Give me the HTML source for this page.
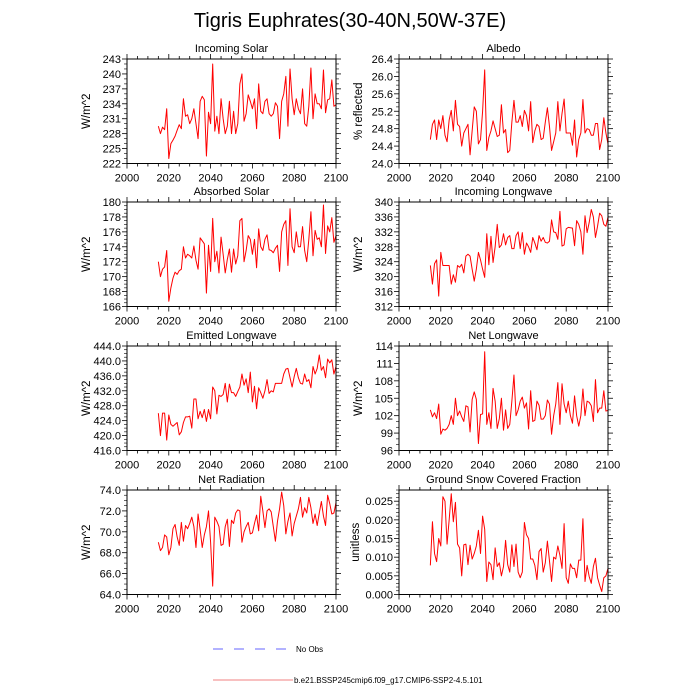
<!DOCTYPE html>
<html><head><meta charset="utf-8"><style>
html,body{margin:0;padding:0;background:#fff;}
svg{display:block;font-family:"Liberation Sans",sans-serif;}
</style></head><body>
<svg id="chart" width="700" height="700" viewBox="0 0 700 700" xmlns="http://www.w3.org/2000/svg">
<rect width="700" height="700" fill="#fff"/>
<text x="350" y="27" font-size="20" text-anchor="middle">Tigris Euphrates(30-40N,50W-37E)</text>
<g>
<line x1="213" y1="649" x2="286" y2="649" stroke="#6666ff" stroke-width="1" stroke-dasharray="10,11"/>
<text x="296" y="652" font-size="8">No Obs</text>
<line x1="213" y1="680" x2="293" y2="680" stroke="#f08080" stroke-width="1"/>
<text x="294" y="683" font-size="8">b.e21.BSSP245cmip6.f09_g17.CMIP6-SSP2-4.5.101</text>
</g>
</svg>
<script>
const years = []; for (let y = 2015; y <= 2100; y++) years.push(y);
const xTicks = [2000, 2020, 2040, 2060, 2080, 2100];
const incomingSolar = [229.5,228,229.3,228.8,233,223,226,226.7,227.5,228.7,229.8,229,235,231.5,231.8,230,231,233,230,227,234.5,235.5,234.8,223.5,232.3,230,242,228.5,231.5,228,235,231,228,229.5,234.5,228,232.5,228,230,238,240,230.5,232,235.8,234.5,233,235,229,238,232.5,232,234.5,235,232,231.5,232,234.2,233.5,227,234.5,236,239.5,229.5,241,235,231.8,235,233,232,237,230,229.5,233.5,241.2,231,236,234,234,233,240.8,232.2,234.8,235,238.8,233.5,233.8];
const albedo = [24.55,24.9,25.0,24.55,25.0,24.8,25.1,24.65,24.5,25.0,25.22,24.75,25.45,24.9,24.85,24.4,24.7,24.8,24.9,24.2,24.75,25.3,25.2,24.45,24.55,25.2,26.15,24.3,24.6,24.75,24.98,24.8,24.62,24.65,25.35,24.7,24.78,24.25,24.3,24.95,25.45,24.95,24.95,25.1,24.85,25.22,25.1,24.75,25.42,24.48,24.75,24.9,24.85,24.55,24.58,24.95,25.28,24.85,24.3,24.5,24.7,25.42,24.75,25.15,25.48,24.7,24.7,24.7,24.42,25.0,24.15,24.55,24.7,25.47,24.7,24.8,24.78,24.65,24.65,24.92,24.92,24.32,24.55,25.05,24.7,24.45];
const absorbedSolar = [172,170,171,171.3,173.5,166.7,168.5,169.8,170.6,170.3,170.8,171,174,172.5,173,172.8,172.5,174.1,172.2,171,175.2,174.8,174.4,167.8,174.2,170.7,177.8,172,173.4,170.5,175.3,173,170.5,172.3,173.7,170.6,173.7,171.7,172.8,177.5,177.8,172,173.5,175.5,175,173,175,171.2,176.4,174,173.5,175,175.6,173.6,173.5,173.2,173.8,174.2,170.7,176,177,177.5,171.5,179.1,174,173.2,176,174,174,176.7,173.5,172,175,178.7,172.8,176.2,175,175.2,174,179.6,173.1,176.8,176,177.9,174.6,175.5];
const incomingLongwave = [323,318,323.5,324.5,314.8,326.5,323,323,323,323,318,320.5,318.5,323,322.5,323.3,321,325.5,326,325.5,322,318.8,322,326.5,324.5,322,319.8,331.5,323.2,330.8,323.8,328,334,327.8,328.5,331.5,328.5,330.5,331,327.5,327.5,331,332,327.5,331.8,326,329,328,326.5,330.5,329,327.2,331,329.5,330.5,329.2,329,329.5,335.2,332,331.8,330,337.5,328.2,328.5,332.8,333.2,333.1,333,328.3,335,334,332,326,336.3,331.8,334.5,338,336,330.5,333.5,337,336.3,334,333.5,336];
const emittedLongwave = [426,420,426,426,418.8,425.5,423,422.5,423,423.5,420.2,421,423.5,425,425,425.2,422,429.8,429.8,424.5,426.5,424.8,427,423.8,427,424.5,433,432,425.8,430.8,430.5,431,434,429,433.8,431.5,431.5,430.5,431.8,433,436.5,433.5,435.2,431.5,437,429,433.2,427.2,432.8,431.5,430,432,435,431.3,432,431.7,434,434,434,434,436.5,437.8,438,435.5,433,435.8,438,435.5,434,433.8,436.5,434.5,435,432.8,438.5,436.5,438,441.6,437.5,438.5,435.5,440.5,439.5,440.3,436.5,438.5];
const netLongwave = [103,101.8,102.5,101.5,104,98.8,99.7,99.5,99.8,100.5,102,100.5,105,102,102.8,101.8,101,103.7,103.5,99.2,104.8,106.1,104.8,97.2,102.2,102.3,113,100.5,102.5,99.8,106.7,104.5,99.8,101.5,105,99.5,103,99.8,100.5,104.5,109,102,103,104.5,105.2,103.3,104.2,99.7,106.3,101,101.2,104.5,103.8,101.4,101.4,102,104.7,104,98.8,102,104,107.7,100.5,107.5,104,102.5,104.5,102,100.7,105.4,102,100.2,102,106.6,102,104.5,104.3,103.7,101,108.2,102.5,103.3,103.3,106.3,102.8,102.9];
const netRadiation = [69,68.2,68.5,69.7,69.5,67.8,68.5,70.3,70.7,69.5,68.7,70.9,69.1,70.6,70.3,70.8,71.4,70.5,68.5,71.7,70.2,68.5,69.7,70.5,72,69,64.8,71.4,71,70.5,68.7,68.8,70.5,71.2,68.6,71.1,70.8,71.8,72.1,72,69,70,70.5,70.9,69.8,69.9,70.8,71.6,70.1,73.4,72,70.4,72,72.2,71.9,70.5,69.1,71,72.2,73.8,72.5,69.8,71,71.8,69.6,70.8,71.5,72.2,73.3,71.4,72.3,71.8,73.3,72.3,70.8,71.7,70.6,71.8,72.9,71.5,70.6,73.5,72.7,71.7,71.8,72.8];
const snowFraction = [0.0078,0.0195,0.011,0.0088,0.015,0.013,0.0262,0.025,0.0135,0.02,0.027,0.0195,0.0247,0.0135,0.0125,0.005,0.0133,0.0135,0.008,0.0132,0.0095,0.011,0.013,0.0172,0.011,0.021,0.0175,0.0035,0.0087,0.008,0.004,0.0125,0.0075,0.0085,0.005,0.0075,0.0145,0.008,0.006,0.0133,0.0075,0.0135,0.006,0.0045,0.006,0.0193,0.016,0.015,0.0095,0.0095,0.0078,0.004,0.0115,0.0123,0.006,0.0085,0.0143,0.009,0.0035,0.01,0.0095,0.013,0.0105,0.007,0.019,0.0045,0.003,0.0082,0.007,0.007,0.0045,0.0092,0.0092,0.0203,0.0035,0.0078,0.0048,0.003,0.0075,0.0097,0.0045,0.0025,0.0008,0.0045,0.005,0.007];
const ticksIS = [222,225,228,231,234,237,240,243];
const ticksAlb = [24.0,24.4,24.8,25.2,25.6,26.0,26.4];
const ticksAS = [166,168,170,172,174,176,178,180];
const ticksIL = [312,316,320,324,328,332,336,340];
const ticksEL = [416,420,424,428,432,436,440,444];
const ticksNL = [96,99,102,105,108,111,114];
const ticksNR = [64,66,68,70,72,74];
const ticksSnow = [0,0.005,0.010,0.015,0.020,0.025];

const panels = [
 {name:'incoming-solar', title:'Incoming Solar', ylab:'W/m^2', data:incomingSolar, ticks:ticksIS, ymin:222, ymax:243, dec:0, L:127, T:59, minor:3},
 {name:'albedo', title:'Albedo', ylab:'% reflected', data:albedo, ticks:ticksAlb, ymin:24.0, ymax:26.4, dec:1, L:399, T:59, minor:4},
 {name:'absorbed-solar', title:'Absorbed Solar', ylab:'W/m^2', data:absorbedSolar, ticks:ticksAS, ymin:166, ymax:180, dec:0, L:127, T:202, minor:4},
 {name:'incoming-longwave', title:'Incoming Longwave', ylab:'W/m^2', data:incomingLongwave, ticks:ticksIL, ymin:312, ymax:340, dec:0, L:399, T:202, minor:4},
 {name:'emitted-longwave', title:'Emitted Longwave', ylab:'W/m^2', data:emittedLongwave, ticks:ticksEL, ymin:416, ymax:444, dec:1, L:127, T:346, minor:4},
 {name:'net-longwave', title:'Net Longwave', ylab:'W/m^2', data:netLongwave, ticks:ticksNL, ymin:96, ymax:114, dec:0, L:399, T:346, minor:3},
 {name:'net-radiation', title:'Net Radiation', ylab:'W/m^2', data:netRadiation, ticks:ticksNR, ymin:64, ymax:74, dec:1, L:127, T:490, minor:4},
 {name:'snow-covered-fraction', title:'Ground Snow Covered Fraction', ylab:'unitless', data:snowFraction, ticks:ticksSnow, ymin:0, ymax:0.028, dec:3, L:399, T:490, minor:5}
];
const W = 209, H = 104.5;
const NS = 'http://www.w3.org/2000/svg';
const svg = document.getElementById('chart');
function mk(tag, attrs, parent){ const e=document.createElementNS(NS,tag); for(const k in attrs) e.setAttribute(k,attrs[k]); parent.appendChild(e); return e; }

panels.forEach(p => {
  const g = mk('g', {}, svg);
  
  
  const xs = v => p.L + (v - 2000) / 100 * W;
  const ys = v => p.T + H - (v - p.ymin) / (p.ymax - p.ymin) * H;
  const B = p.T + H, R = p.L + W;
  for (let yv = 2000; yv <= 2100; yv += 5) {
    const x = xs(yv);
    const len = (yv % 20 === 0) ? 5 : 3;
    mk('line', {x1:x, y1:B, x2:x, y2:B+len, stroke:'#000', 'stroke-width':0.8}, g);
    mk('line', {x1:x, y1:p.T, x2:x, y2:p.T-len, stroke:'#000', 'stroke-width':0.8}, g);
  }
  xTicks.forEach(v => {
    const t = mk('text', {x:xs(v), y:B+18, 'font-size':11, 'text-anchor':'middle'}, g);
    
    
    t.textContent = v;
  });
  const step = p.ticks[1] - p.ticks[0];
  for (let i = 0; i < p.ticks.length; i++) {
    const v = p.ticks[i];
    const y = ys(v);
    mk('line', {x1:p.L, y1:y, x2:p.L-5, y2:y, stroke:'#000', 'stroke-width':0.8}, g);
    mk('line', {x1:R, y1:y, x2:R+5, y2:y, stroke:'#000', 'stroke-width':0.8}, g);
    for (let k = 1; k < p.minor; k++) {
      const mv = v + step * k / p.minor;
      if (mv > p.ymax + 1e-9) break;
      const my = ys(mv);
      mk('line', {x1:p.L, y1:my, x2:p.L-3, y2:my, stroke:'#000', 'stroke-width':0.6}, g);
      mk('line', {x1:R, y1:my, x2:R+3, y2:my, stroke:'#000', 'stroke-width':0.6}, g);
    }
    const t = mk('text', {x:p.L-6, y:y+4, 'font-size':11, 'text-anchor':'end'}, g);
    
    
    t.textContent = v.toFixed(p.dec);
  }
  let d = '';
  p.data.forEach((v, i) => { d += (i ? 'L' : 'M') + xs(years[i]).toFixed(2) + ',' + ys(v).toFixed(2); });
  const line = mk('path', {d:d, fill:'none', stroke:'#ff0000', 'stroke-width':1, 'stroke-linejoin':'round'}, g);
  
  
  const fr = mk('rect', {x:p.L, y:p.T, width:W, height:H, fill:'none', stroke:'#000', 'stroke-width':1}, g);
  
  
  const tt = mk('text', {x:p.L + W/2, y:p.T-7, 'font-size':11, 'text-anchor':'middle'}, g);
  
  
  tt.textContent = p.title;
  const yx = p.L - (p.dec >= 3 ? 40 : 37);
  const yt = mk('text', {x:yx, y:p.T + H/2, 'font-size':11.5, 'text-anchor':'middle', transform:'rotate(-90 ' + yx + ' ' + (p.T + H/2) + ')'}, g);
  
  
  yt.textContent = p.ylab;
});
</script>
</body></html>
